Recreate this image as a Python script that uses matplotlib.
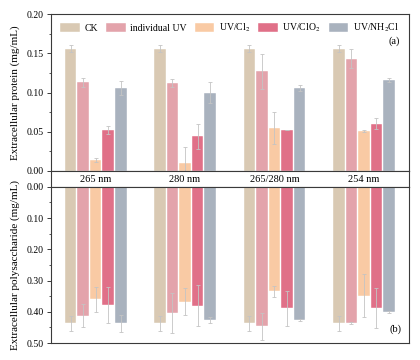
import numpy as np
import matplotlib
matplotlib.use("Agg")
import matplotlib.pyplot as plt
from matplotlib.ticker import MultipleLocator, FormatStrFormatter

plt.rcParams['font.family'] = ['Liberation Serif', 'DejaVu Serif']
plt.rcParams['mathtext.fontset'] = 'stix'

groups = ["265 nm", "280 nm", "265/280 nm", "254 nm"]
series = ["CK", "individual UV", r"UV/Cl$_2$", r"UV/ClO$_2$", r"UV/NH$_2$Cl"]
colors = ["#d9c9b3", "#e3a3ab", "#f9caa4", "#e07088", "#a9b2be"]

# extracellular protein (mg/mL), one row per series
protein = [
    [0.156, 0.156, 0.156, 0.156],
    [0.113, 0.112, 0.127, 0.143],
    [0.014, 0.010, 0.055, 0.051],
    [0.052, 0.044, 0.052, 0.060],
    [0.106, 0.100, 0.106, 0.116],
]
protein_err = [
    [0.004, 0.004, 0.004, 0.004],
    [0.006, 0.005, 0.022, 0.012],
    [0.003, 0.020, 0.020, 0.001],
    [0.005, 0.016, 0.000, 0.007],
    [0.009, 0.013, 0.004, 0.003],
]

# extracellular polysaccharide (mg/mL)
poly = [
    [0.437, 0.437, 0.437, 0.437],
    [0.412, 0.404, 0.446, 0.435],
    [0.359, 0.367, 0.334, 0.348],
    [0.378, 0.380, 0.389, 0.388],
    [0.437, 0.427, 0.427, 0.401],
]
poly_err = [
    [0.024, 0.024, 0.024, 0.024],
    [0.036, 0.064, 0.043, 0.003],
    [0.040, 0.044, 0.017, 0.068],
    [0.057, 0.065, 0.057, 0.065],
    [0.028, 0.010, 0.003, 0.004],
]

x = np.arange(len(groups))
step = 0.14
width = 0.132
spine_col = "#3a3a3a"

fig = plt.figure(figsize=(4.2, 3.6), dpi=100)
ax1 = fig.add_axes([0.121, 0.525, 0.852, 0.436])
axm = fig.add_axes([0.121, 0.481, 0.852, 0.044])
ax2 = fig.add_axes([0.121, 0.047, 0.852, 0.434])

err_kw = dict(ecolor="#c4c4c4", elinewidth=0.6, capsize=1.5, capthick=0.6)
for i in range(len(series)):
    off = (i - 2) * step
    ax1.bar(x + off, protein[i], width, yerr=protein_err[i], color=colors[i],
            edgecolor="white", linewidth=0.3, label=series[i], error_kw=err_kw)
    ax2.bar(x + off, poly[i], width, yerr=poly_err[i], color=colors[i],
            edgecolor="white", linewidth=0.3, error_kw=err_kw)

for ax in (ax1, axm, ax2):
    ax.set_xlim(-0.5, 3.5)
    ax.set_xticks([])
    for s in ax.spines.values():
        s.set_color(spine_col)
        s.set_linewidth(0.8)

ax1.set_ylim(0, 0.20)
ax1.yaxis.set_major_locator(MultipleLocator(0.05))
ax1.yaxis.set_minor_locator(MultipleLocator(0.025))
ax1.yaxis.set_major_formatter(FormatStrFormatter('%.2f'))

ax2.set_ylim(0.50, 0)
ax2.yaxis.set_major_locator(MultipleLocator(0.10))
ax2.yaxis.set_minor_locator(MultipleLocator(0.05))
ax2.yaxis.set_major_formatter(FormatStrFormatter('%.2f'))

for ax in (ax1, ax2):
    ax.tick_params(axis='y', which='major', labelsize=7, length=3, width=0.7,
                   color=spine_col, pad=2)
    ax.tick_params(axis='y', which='minor', length=1.8, width=0.6, color=spine_col)

axm.set_yticks([])
axm.set_ylim(0, 1)
for xi, g in zip(x, groups):
    axm.text(xi, 0.45, g, ha='center', va='center', fontsize=7.5)

ax1.set_ylabel("Extracellular protein (mg/mL)", fontsize=8)
ax2.set_ylabel("Extracellular polysaccharide (mg/mL)", fontsize=8)
ax1.yaxis.set_label_coords(-0.085, 0.5)
ax2.yaxis.set_label_coords(-0.085, 0.5)

ax1.legend(loc='upper center', bbox_to_anchor=(0.5, 1.0), ncol=5, frameon=False,
           fontsize=7, handlelength=2.0, handleheight=1.0, columnspacing=0.8,
           handletextpad=0.5, borderaxespad=0.4)

ax1.text(0.975, 0.83, "(a)", transform=ax1.transAxes, ha='right', va='center', fontsize=7.5)
ax2.text(0.98, 0.09, "(b)", transform=ax2.transAxes, ha='right', va='center', fontsize=7.5)

fig.savefig("out.png", dpi=100)
